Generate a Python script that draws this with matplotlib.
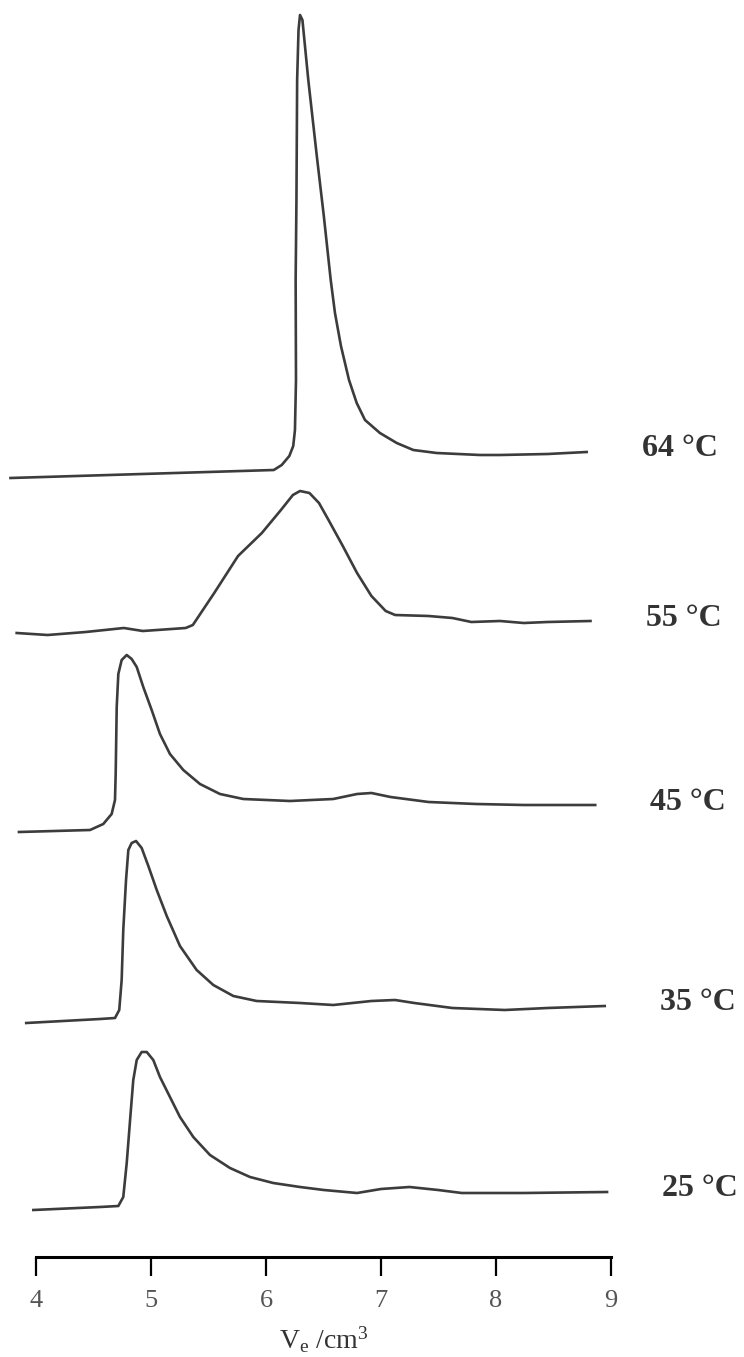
"""GPC elution curves at several temperatures, stacked with a vertical offset."""

import matplotlib

matplotlib.use("Agg")
import matplotlib.pyplot as plt

plt.rcParams["font.family"] = ["Liberation Serif", "DejaVu Serif"]
plt.rcParams["mathtext.fontset"] = "custom"
plt.rcParams["mathtext.rm"] = "Liberation Serif"
plt.rcParams["mathtext.it"] = "Liberation Serif"

# elution volume Ve [cm3] and detector signal (arbitrary units) per temperature
labels = ["64 °C", "55 °C", "45 °C", "35 °C", "25 °C"]
baselines = [879, 724, 525, 334, 147]

ve_64 = [3.778, 6.068, 6.137, 6.203, 6.237, 6.252, 6.261, 6.258, 6.265, 6.271, 6.283,
         6.296, 6.317, 6.368, 6.443, 6.503, 6.563, 6.600, 6.652, 6.722, 6.789, 6.861,
         6.991, 7.137, 7.281, 7.484, 7.861, 8.035, 8.449, 8.789]
sig_64 = [0, 8, 13, 22, 32, 48, 98, 198, 278, 398, 448, 463, 458, 398, 321, 262, 198,
          165, 132, 98, 75, 58, 45, 35, 28, 25, 23, 23, 24, 26]

ve_55 = [3.832, 4.101, 4.432, 4.764, 4.929, 5.302, 5.364, 5.550, 5.757, 5.964, 6.130,
         6.234, 6.296, 6.378, 6.461, 6.544, 6.668, 6.792, 6.917, 7.041, 7.123, 7.414,
         7.621, 7.786, 8.035, 8.242, 8.449, 8.822]
sig_55 = [0, -2, 1, 5, 2, 5, 8, 40, 77, 100, 123, 138, 142, 140, 130, 113, 87, 60, 37,
          22, 18, 17, 15, 11, 12, 10, 11, 12]

ve_45 = [3.852, 4.470, 4.585, 4.658, 4.687, 4.693, 4.702, 4.716, 4.745, 4.789, 4.832,
         4.876, 4.933, 5.006, 5.078, 5.165, 5.281, 5.426, 5.600, 5.803, 6.209, 6.585,
         6.792, 6.917, 7.083, 7.414, 7.828, 8.242, 8.863]
sig_45 = [0, 2, 8, 18, 32, 58, 125, 158, 172, 177, 173, 165, 145, 122, 98, 78, 62, 48,
          38, 33, 31, 33, 38, 39, 35, 30, 28, 27, 27]

ve_35 = [3.915, 4.557, 4.687, 4.724, 4.745, 4.759, 4.783, 4.803, 4.832, 4.870, 4.919,
         4.977, 5.050, 5.137, 5.252, 5.397, 5.542, 5.716, 5.919, 6.296, 6.585, 6.917,
         7.123, 7.290, 7.621, 8.077, 8.449, 8.946]
sig_35 = [0, 4, 5, 13, 43, 93, 143, 173, 180, 182, 175, 157, 133, 107, 77, 53, 38, 27,
          22, 20, 18, 22, 23, 20, 15, 13, 15, 17]

ve_25 = [3.977, 4.557, 4.716, 4.759, 4.789, 4.823, 4.846, 4.876, 4.919, 4.963, 5.020,
         5.078, 5.165, 5.252, 5.368, 5.513, 5.687, 5.861, 6.063, 6.296, 6.503, 6.792,
         7.000, 7.248, 7.497, 7.703, 8.242, 8.966]
sig_25 = [0, 3, 4, 13, 47, 97, 130, 150, 158, 158, 150, 133, 113, 93, 73, 55, 42, 33,
          27, 23, 20, 17, 21, 23, 20, 17, 17, 18]

traces = [(ve_64, sig_64), (ve_55, sig_55), (ve_45, sig_45), (ve_35, sig_35), (ve_25, sig_25)]
xticks = [4, 5, 6, 7, 8, 9]

fig = plt.figure(figsize=(7.44, 13.57), dpi=100)
ax = fig.add_axes([0, 0, 1, 1])

line_color = "#3c3c3c"
for (ve, sig), base, label in zip(traces, baselines, labels):
    ax.plot(ve, [base + s for s in sig], color=line_color, lw=1.9,
            solid_joinstyle="round", clip_on=False)
    # label sits a bit right of the tail end of each trace
    ax.text(ve[-1] + 0.81, base + sig[-1] + 3, label, ha="center", va="center",
            fontsize=23, fontweight="bold", color="#333333")

ax.set_xlim(3.687, 10.157)
ax.set_ylim(0, 1357)

for side in ("left", "top", "right"):
    ax.spines[side].set_visible(False)
ax.spines["bottom"].set_position(("data", 100))
ax.spines["bottom"].set_bounds(4, 9)
ax.spines["bottom"].set_linewidth(2.2)
ax.set_yticks([])
ax.set_xticks(xticks)
ax.tick_params(axis="x", direction="out", length=14, width=1.6, pad=10,
               labelsize=19, labelcolor="#555555")

ax.text(6.5, 17, r"V$_{\rm e}$ /cm$^3$", ha="center", va="center",
        fontsize=20, color="#333333")

fig.savefig("out.png", dpi=100)
